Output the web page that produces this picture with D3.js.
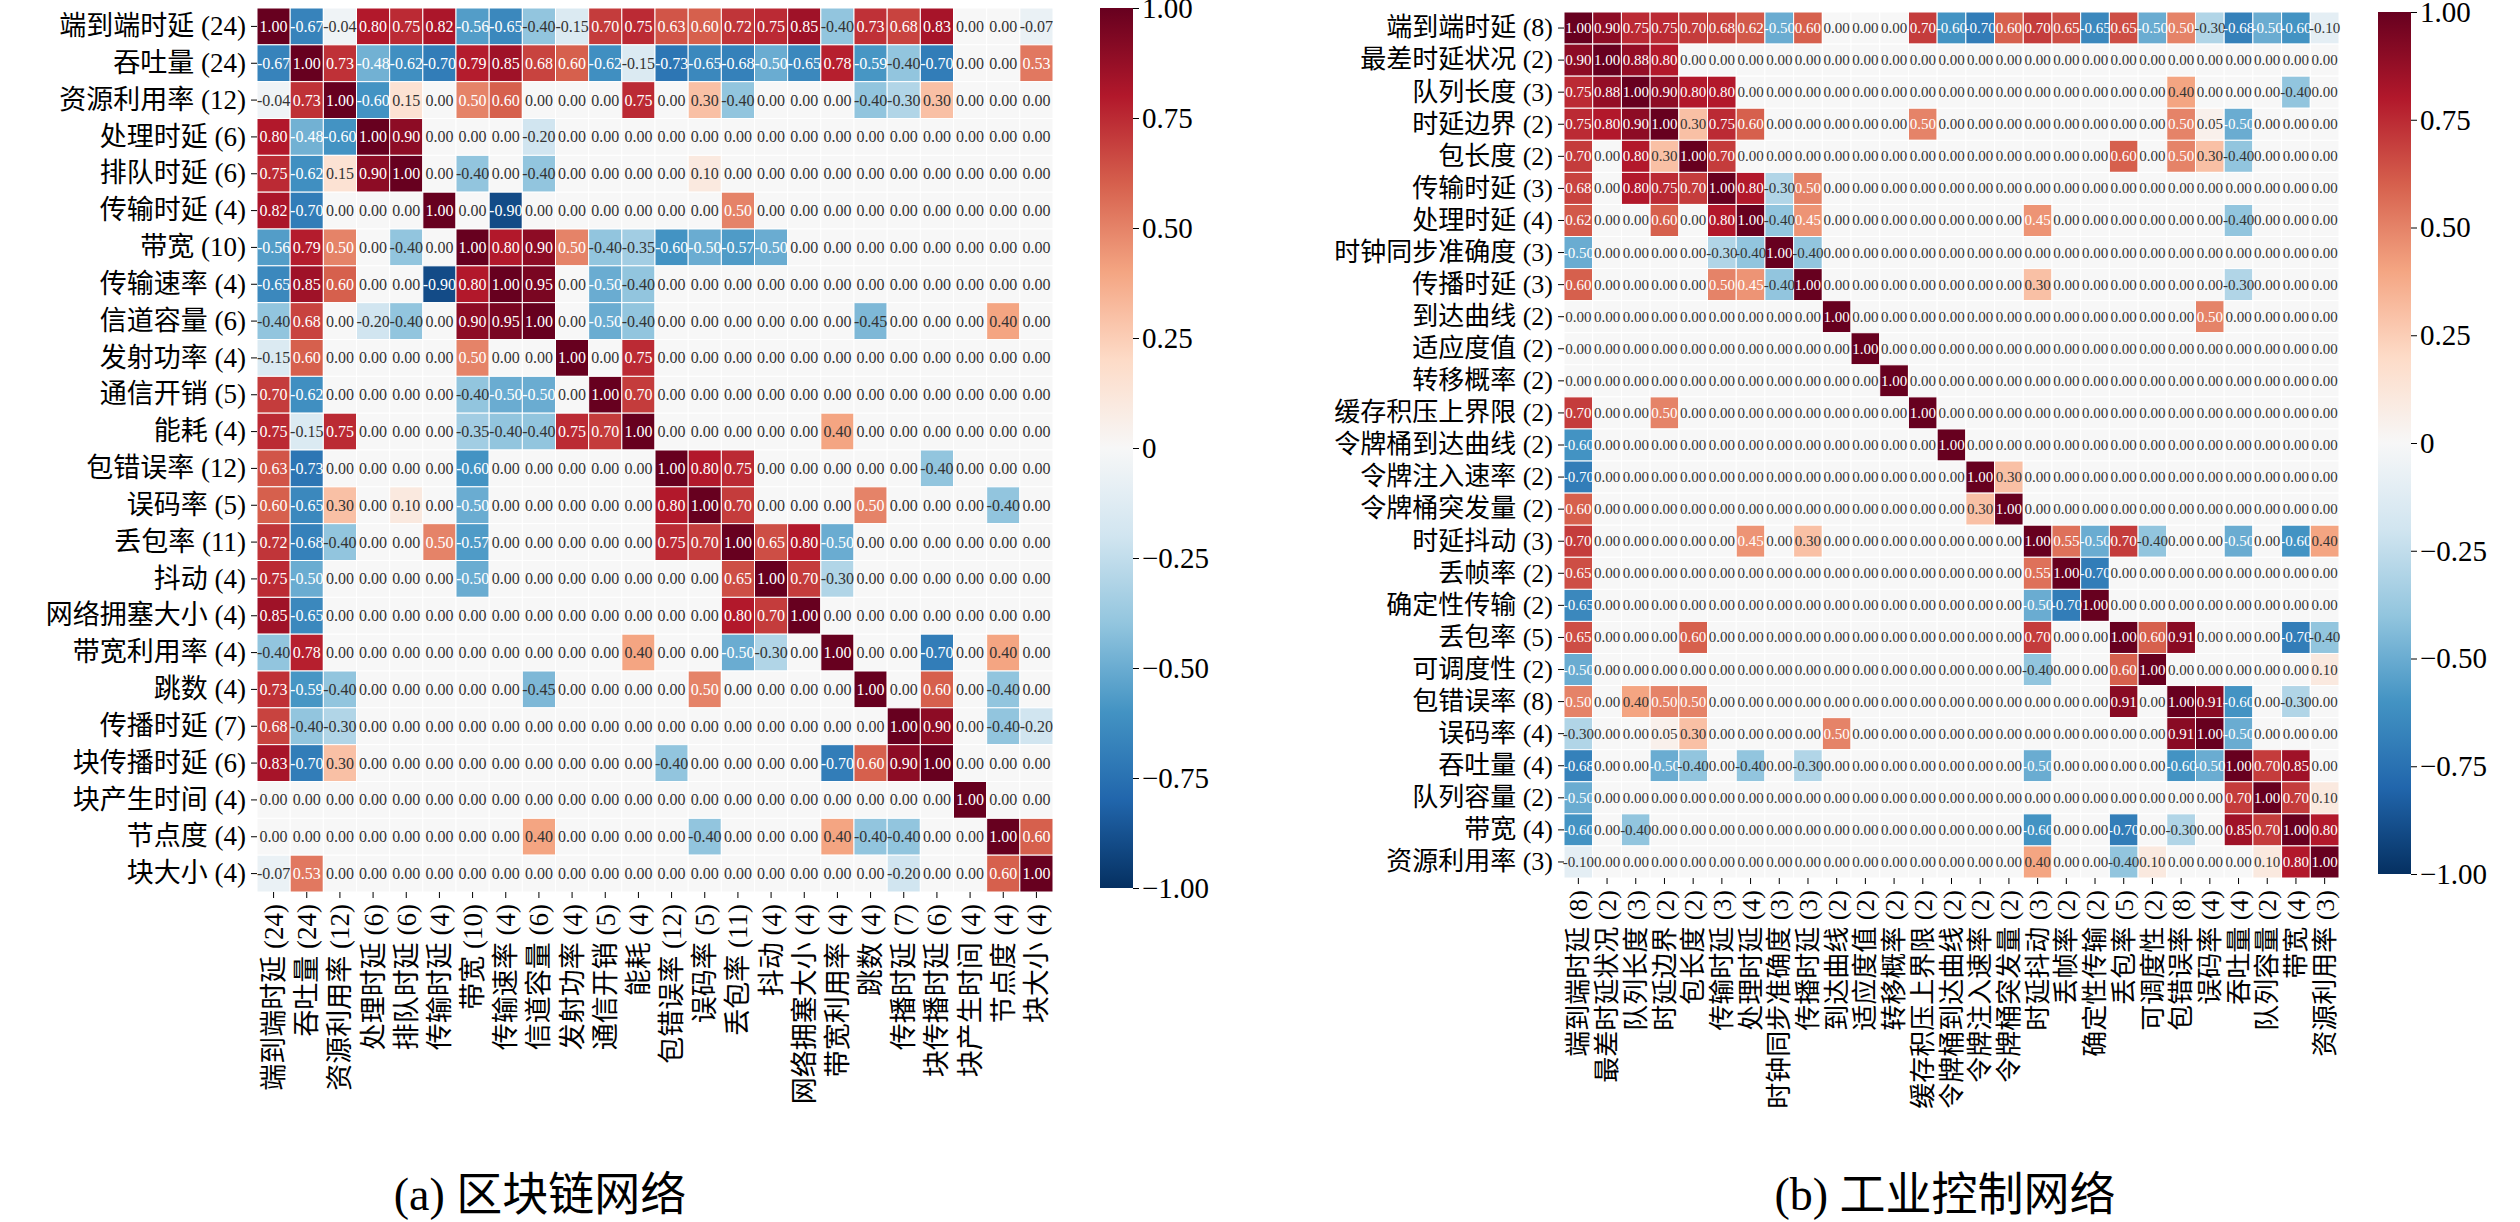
<!DOCTYPE html>
<html><head><meta charset="utf-8">
<script src="https://cdn.jsdelivr.net/npm/d3@7"></script>
<style>
body{margin:0;background:#fff;}
text{font-family:"Liberation Serif","DejaVu Serif","Noto Sans CJK SC",serif;}
</style></head>
<body><svg id="c" width="2520" height="1222"></svg>
<script>
// (a) blockchain network
var namesA = ['端到端时延','吞吐量','资源利用率','处理时延','排队时延','传输时延','带宽','传输速率','信道容量','发射功率','通信开销','能耗','包错误率','误码率','丢包率','抖动','网络拥塞大小','带宽利用率','跳数','传播时延','块传播时延','块产生时间','节点度','块大小'];
var countsA = [24,24,12,6,6,4,10,4,6,4,5,4,12,5,11,4,4,4,4,7,6,4,4,4];
var corrA = [
[1.00,-0.67,-0.04,0.80,0.75,0.82,-0.56,-0.65,-0.40,-0.15,0.70,0.75,0.63,0.60,0.72,0.75,0.85,-0.40,0.73,0.68,0.83,0.00,0.00,-0.07],
[-0.67,1.00,0.73,-0.48,-0.62,-0.70,0.79,0.85,0.68,0.60,-0.62,-0.15,-0.73,-0.65,-0.68,-0.50,-0.65,0.78,-0.59,-0.40,-0.70,0.00,0.00,0.53],
[-0.04,0.73,1.00,-0.60,0.15,0,0.50,0.60,0,0,0,0.75,0,0.30,-0.40,0,0,0,-0.40,-0.30,0.30,0,0,0],
[0.80,-0.48,-0.60,1.00,0.90,0,0,0,-0.20,0,0,0,0,0,0,0,0,0,0,0,0,0,0,0],
[0.75,-0.62,0.15,0.90,1.00,0,-0.40,0,-0.40,0,0,0,0,0.10,0,0,0,0,0,0,0,0,0,0],
[0.82,-0.70,0,0,0,1.00,0,-0.90,0,0,0,0,0,0,0.50,0,0,0,0,0,0,0,0,0],
[-0.56,0.79,0.50,0,-0.40,0,1.00,0.80,0.90,0.50,-0.40,-0.35,-0.60,-0.50,-0.57,-0.50,0,0,0,0,0,0,0,0],
[-0.65,0.85,0.60,0,0,-0.90,0.80,1.00,0.95,0,-0.50,-0.40,0,0,0,0,0,0,0,0,0,0,0,0],
[-0.40,0.68,0,-0.20,-0.40,0,0.90,0.95,1.00,0,-0.50,-0.40,0,0,0,0,0,0,-0.45,0,0,0,0.40,0],
[-0.15,0.60,0,0,0,0,0.50,0,0,1.00,0,0.75,0,0,0,0,0,0,0,0,0,0,0,0],
[0.70,-0.62,0,0,0,0,-0.40,-0.50,-0.50,0,1.00,0.70,0,0,0,0,0,0,0,0,0,0,0,0],
[0.75,-0.15,0.75,0,0,0,-0.35,-0.40,-0.40,0.75,0.70,1.00,0,0,0,0,0,0.40,0,0,0,0,0,0],
[0.63,-0.73,0,0,0,0,-0.60,0,0,0,0,0,1.00,0.80,0.75,0,0,0,0,0,-0.40,0,0,0],
[0.60,-0.65,0.30,0,0.10,0,-0.50,0,0,0,0,0,0.80,1.00,0.70,0,0,0,0.50,0,0,0,-0.40,0],
[0.72,-0.68,-0.40,0,0,0.50,-0.57,0,0,0,0,0,0.75,0.70,1.00,0.65,0.80,-0.50,0,0,0,0,0,0],
[0.75,-0.50,0,0,0,0,-0.50,0,0,0,0,0,0,0,0.65,1.00,0.70,-0.30,0,0,0,0,0,0],
[0.85,-0.65,0,0,0,0,0,0,0,0,0,0,0,0,0.80,0.70,1.00,0,0,0,0,0,0,0],
[-0.40,0.78,0,0,0,0,0,0,0,0,0,0.40,0,0,-0.50,-0.30,0,1.00,0,0,-0.70,0,0.40,0],
[0.73,-0.59,-0.40,0,0,0,0,0,-0.45,0,0,0,0,0.50,0,0,0,0,1.00,0,0.60,0,-0.40,0],
[0.68,-0.40,-0.30,0,0,0,0,0,0,0,0,0,0,0,0,0,0,0,0,1.00,0.90,0,-0.40,-0.20],
[0.83,-0.70,0.30,0,0,0,0,0,0,0,0,0,-0.40,0,0,0,0,-0.70,0.60,0.90,1.00,0,0,0],
[0,0,0,0,0,0,0,0,0,0,0,0,0,0,0,0,0,0,0,0,0,1.00,0,0],
[0,0,0,0,0,0,0,0,0.40,0,0,0,0,-0.40,0,0,0,0.40,-0.40,-0.40,0,0,1.00,0.60],
[-0.07,0.53,0,0,0,0,0,0,0,0,0,0,0,0,0,0,0,0,0,-0.20,0,0,0.60,1.00]
];

// (b) industrial control network
var namesB = ['端到端时延','最差时延状况','队列长度','时延边界','包长度','传输时延','处理时延','时钟同步准确度','传播时延','到达曲线','适应度值','转移概率','缓存积压上界限','令牌桶到达曲线','令牌注入速率','令牌桶突发量','时延抖动','丢帧率','确定性传输','丢包率','可调度性','包错误率','误码率','吞吐量','队列容量','带宽','资源利用率'];
var countsB = [8,2,3,2,2,3,4,3,3,2,2,2,2,2,2,2,3,2,2,5,2,8,4,4,2,4,3];
// upper triangle entries [row, col, value]; diagonal is 1
var pairsB = [
[0,1,0.90],[0,2,0.75],[0,3,0.75],[0,4,0.70],[0,5,0.68],[0,6,0.62],[0,7,-0.50],[0,8,0.60],
[0,12,0.70],[0,13,-0.60],[0,14,-0.70],[0,15,0.60],[0,16,0.70],[0,17,0.65],[0,18,-0.65],[0,19,0.65],
[0,20,-0.50],[0,21,0.50],[0,22,-0.30],[0,23,-0.68],[0,24,-0.50],[0,25,-0.60],[0,26,-0.10],
[1,2,0.88],[1,3,0.80],
[2,3,0.90],[2,4,0.80],[2,5,0.80],[2,21,0.40],[2,25,-0.40],
[3,4,0.30],[3,5,0.75],[3,6,0.60],[3,12,0.50],[3,21,0.50],[3,22,0.05],[3,23,-0.50],
[4,5,0.70],[4,19,0.60],[4,21,0.50],[4,22,0.30],[4,23,-0.40],
[5,6,0.80],[5,7,-0.30],[5,8,0.50],
[6,7,-0.40],[6,8,0.45],[6,16,0.45],[6,23,-0.40],
[7,8,-0.40],
[8,16,0.30],[8,23,-0.30],
[9,22,0.50],
[14,15,0.30],
[16,17,0.55],[16,18,-0.50],[16,19,0.70],[16,20,-0.40],[16,23,-0.50],[16,25,-0.60],[16,26,0.40],
[17,18,-0.70],
[19,20,0.60],[19,21,0.91],[19,25,-0.70],[19,26,-0.40],
[20,26,0.10],
[21,22,0.91],[21,23,-0.60],[21,25,-0.30],
[22,23,-0.50],
[23,24,0.70],[23,25,0.85],
[24,25,0.70],[24,26,0.10],
[25,26,0.80]
];
var corrB = namesB.map(function(_, i) {
    return namesB.map(function(_, j) { return i === j ? 1 : 0; });
});
pairsB.forEach(function(p) { corrB[p[0]][p[1]] = p[2]; corrB[p[1]][p[0]] = p[2]; });

var cbTicks = [1, 0.75, 0.5, 0.25, 0, -0.25, -0.5, -0.75, -1];
var titles = ['(a) 区块链网络', '(b) 工业控制网络'];

var svg = d3.select('#c');
// RdBu_r as piecewise linear through the ColorBrewer stops
var rdbu = ['#053061','#2166ac','#4393c3','#92c5de','#d1e5f0','#f7f7f7','#fddbc7','#f4a582','#d6604d','#b2182b','#67001f'];
var color = d3.scaleLinear().domain(d3.range(11).map(function(i) { return -1 + i * 0.2; })).range(rdbu).clamp(true);

function textColor(v) {
    var c = d3.rgb(color(v));
    var f = function(x) { x /= 255; return x <= 0.03928 ? x / 12.92 : Math.pow((x + 0.055) / 1.055, 2.4); };
    var lum = 0.2126 * f(c.r) + 0.7152 * f(c.g) + 0.0722 * f(c.b);
    return lum > 0.408 ? '#333' : '#fff';
}

function drawHeatmap(o) {
    var labels = o.names.map(function(n, i) { return n + ' (' + o.counts[i] + ')'; });
    var idx = d3.range(o.names.length);
    var x = d3.scaleBand().domain(idx).range([o.x0, o.x1]);
    var y = d3.scaleBand().domain(idx).range([o.y0, o.y1]);
    var g = svg.append('g');

    var cells = [];
    o.data.forEach(function(row, i) { row.forEach(function(v, j) { cells.push({i: i, j: j, v: v}); }); });

    g.selectAll('rect.cell').data(cells).enter().append('rect')
        .attr('x', function(d) { return x(d.j); })
        .attr('y', function(d) { return y(d.i); })
        .attr('width', x.bandwidth()).attr('height', y.bandwidth())
        .attr('fill', function(d) { return color(d.v); })
        .attr('stroke', '#fff').attr('stroke-width', 1);

    g.selectAll('text.val').data(cells).enter().append('text')
        .attr('x', function(d) { return x(d.j) + x.bandwidth() / 2; })
        .attr('y', function(d) { return y(d.i) + y.bandwidth() / 2; })
        .attr('text-anchor', 'middle').attr('dominant-baseline', 'central')
        .attr('font-size', o.valSize)
        .attr('fill', function(d) { return textColor(d.v); })
        .text(function(d) { return d.v.toFixed(2); });

    var ya = g.append('g').attr('transform', 'translate(' + o.x0 + ',0)')
        .call(d3.axisLeft(y).tickSize(6).tickFormat(function(d) { return labels[d]; }));
    ya.select('.domain').remove();
    ya.selectAll('text').attr('font-size', o.labSize).attr('fill', '#000').attr('dx', '-2');

    var xa = g.append('g').attr('transform', 'translate(0,' + o.y1 + ')')
        .call(d3.axisBottom(x).tickSize(6).tickFormat(function(d) { return labels[d]; }));
    xa.select('.domain').remove();
    xa.selectAll('text').attr('font-size', o.labSize).attr('fill', '#000')
        .attr('transform', 'rotate(-90)').attr('text-anchor', 'end')
        .attr('x', -12).attr('y', 0).attr('dy', '0.35em');

    // colorbar
    var cb = d3.scaleLinear().domain([-1, 1]).range([o.y1 - 4, o.y0]);
    var defs = svg.append('defs');
    var gid = 'grad' + o.key;
    var grad = defs.append('linearGradient').attr('id', gid).attr('x1', 0).attr('x2', 0).attr('y1', 1).attr('y2', 0);
    d3.range(0, 1.001, 0.05).forEach(function(t) {
        grad.append('stop').attr('offset', t).attr('stop-color', color(t * 2 - 1));
    });
    g.append('rect').attr('x', o.cbx).attr('y', o.y0).attr('width', 33).attr('height', o.y1 - 4 - o.y0)
        .attr('fill', 'url(#' + gid + ')');
    var ca = g.append('g').attr('transform', 'translate(' + (o.cbx + 33) + ',0)')
        .call(d3.axisRight(cb).tickValues(cbTicks).tickSize(6)
            .tickFormat(function(d) { return d === 0 ? '0' : d.toFixed(2).replace('-', '\u2212'); }));
    ca.select('.domain').remove();
    ca.selectAll('text').attr('font-size', 29).attr('fill', '#000');

    svg.append('text').attr('x', o.tx).attr('y', 1210).attr('text-anchor', 'middle')
        .attr('font-size', 46).text(o.title);
}

drawHeatmap({key: 'a', names: namesA, counts: countsA, data: corrA,
    x0: 257, x1: 1053, y0: 8, y1: 892, valSize: 16, labSize: 27, cbx: 1100, tx: 540, title: titles[0]});
drawHeatmap({key: 'b', names: namesB, counts: countsB, data: corrB,
    x0: 1564, x1: 2339, y0: 12, y1: 878, valSize: 15, labSize: 26, cbx: 2378, tx: 1945, title: titles[1]});
</script></body></html>
